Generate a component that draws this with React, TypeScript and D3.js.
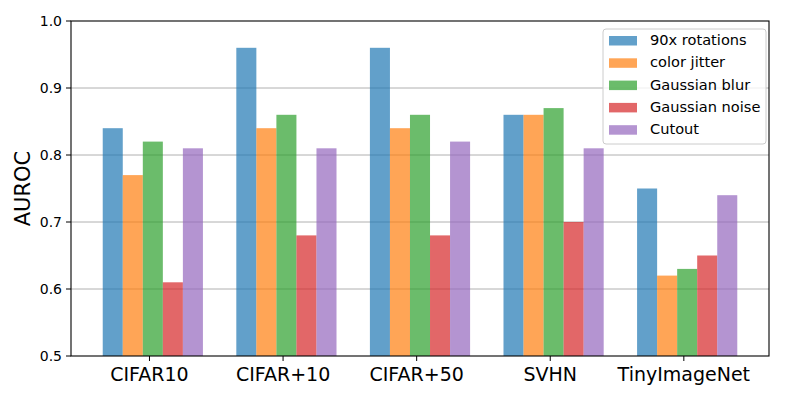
import * as d3 from "d3";

const datasets = ["CIFAR10", "CIFAR+10", "CIFAR+50", "SVHN", "TinyImageNet"];
const methods = ["90x rotations", "color jitter", "Gaussian blur", "Gaussian noise", "Cutout"];
const colors = ["#1f77b4", "#ff7f0e", "#2ca02c", "#d62728", "#9467bd"];

const rotations = [0.84, 0.96, 0.96, 0.86, 0.75];
const colorJitter = [0.77, 0.84, 0.84, 0.86, 0.62];
const gaussianBlur = [0.82, 0.86, 0.86, 0.87, 0.63];
const gaussianNoise = [0.61, 0.68, 0.68, 0.7, 0.65];
const cutout = [0.81, 0.81, 0.82, 0.81, 0.74];

const series = [rotations, colorJitter, gaussianBlur, gaussianNoise, cutout];
const yTicks = [0.5, 0.6, 0.7, 0.8, 0.9, 1.0];

const W = 800;
const H = 400;
const left = 71;
const right = 769;
const top = 21;
const bottom = 356;
const barW = 0.15;

export default function App() {
  // group i sits at x = i, bars start 0.35 left of the tick
  const x = d3.scaleLinear().domain([-0.5875, 4.6375]).range([left, right]);
  const y = d3.scaleLinear().domain([0.5, 1.0]).range([bottom, top]);
  const unit = x(1) - x(0);

  return (
    <svg
      width={W}
      height={H}
      style={{ position: "absolute", left: 0, top: 0, fontFamily: "DejaVu Sans" }}
    >
      <rect width={W} height={H} fill="#fff" />

      {/* grid */}
      {yTicks.slice(1, -1).map((t) => (
        <line key={t} x1={left} x2={right} y1={y(t)} y2={y(t)} stroke="#b0b0b0" strokeWidth={1} />
      ))}

      {/* bars */}
      {series.map((vals, s) =>
        vals.map((v, i) => {
          const x0 = x(i - 0.35 + s * barW);
          return (
            <rect
              key={`${s}-${i}`}
              x={x0}
              y={y(v)}
              width={barW * unit}
              height={y(0.5) - y(v)}
              fill={colors[s]}
              fillOpacity={0.7}
            />
          );
        })
      )}

      {/* axes frame */}
      <rect x={left} y={top} width={right - left} height={bottom - top} fill="none" stroke="#000" strokeWidth={1.1} />

      {/* y ticks */}
      {yTicks.map((t) => (
        <g key={t}>
          <line x1={left - 5} x2={left} y1={y(t)} y2={y(t)} stroke="#000" />
          <text x={left - 9} y={y(t)} dy="0.35em" textAnchor="end" fontSize={14}>
            {t.toFixed(1)}
          </text>
        </g>
      ))}

      {/* x ticks */}
      {datasets.map((d, i) => (
        <g key={d}>
          <line x1={x(i)} x2={x(i)} y1={bottom} y2={bottom + 5} stroke="#000" />
          <text x={x(i)} y={bottom + 25} textAnchor="middle" fontSize={19}>
            {d}
          </text>
        </g>
      ))}

      <text transform={`translate(30,${(top + bottom) / 2}) rotate(-90)`} textAnchor="middle" fontSize={21}>
        AUROC
      </text>

      {/* legend */}
      <g transform="translate(603,29)">
        <rect width={163} height={115} rx={3} fill="#fff" fillOpacity={0.8} stroke="#ccc" />
        {methods.map((m, i) => (
          <g key={m} transform={`translate(0,${11 + i * 22.3})`}>
            <rect x={6} y={-4} width={28} height={9.5} fill={colors[i]} fillOpacity={0.7} />
            <text x={47} y={0} dy="0.35em" fontSize={14.6}>
              {m}
            </text>
          </g>
        ))}
      </g>
    </svg>
  );
}
